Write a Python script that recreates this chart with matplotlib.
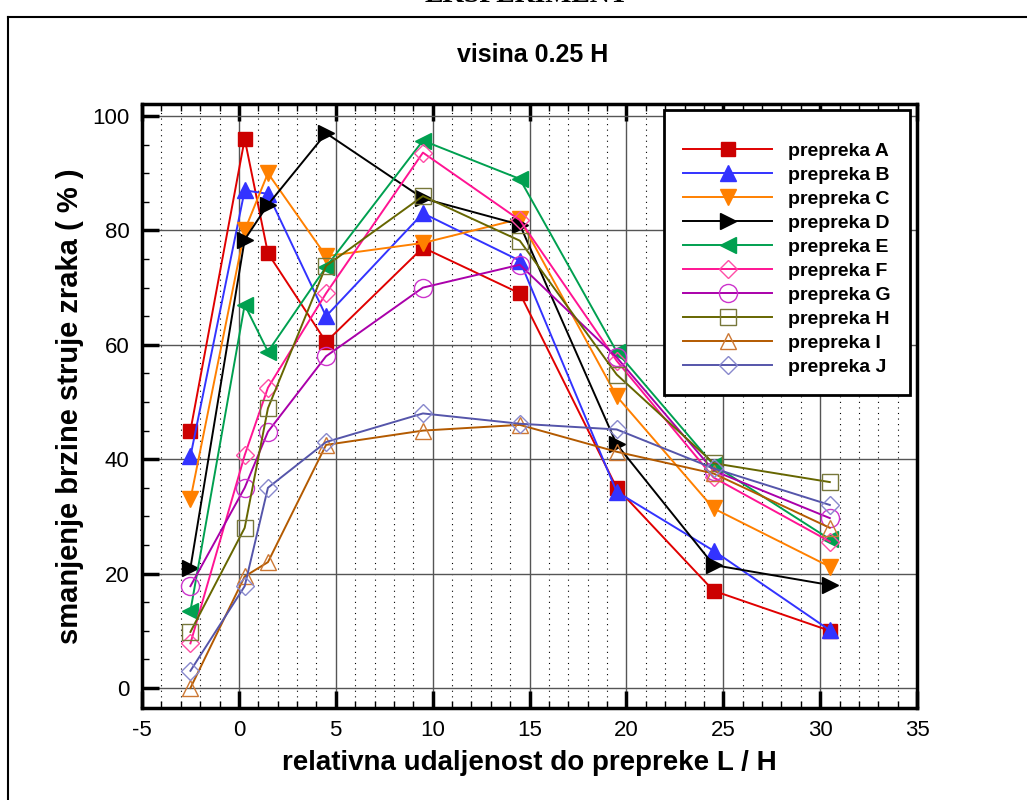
import numpy as np
import matplotlib.pyplot as plt
from matplotlib.lines import Line2D
from matplotlib.ticker import MultipleLocator

plt.rcParams['axes.unicode_minus'] = False

# relativna udaljenost L/H
x = [-2.5, 0.3, 1.5, 4.5, 9.5, 14.5, 19.5, 24.5, 30.5]

A = [45, 96, 76, 60.5, 77, 69, 35, 17, 10]
B = [40.5, 87, 86.4, 65, 83, 74.7, 34.3, 24, 10.1]
C = [33, 80, 90, 75.5, 77.8, 82, 51, 31.4, 21.2]
D = [21, 78.4, 84.5, 97, 85.6, 81, 42.6, 21.5, 18]
E = [13.5, 67, 58.8, 73.6, 95.7, 89, 58.8, 39, 26]
F = [7.8, 40.7, 52.5, 69, 93.6, 81.8, 57.2, 36.8, 25.6]
G = [17.8, 35, 44.8, 58, 70, 74, 57.8, 38, 29.7]
H = [9.8, 28, 48.9, 73.8, 86, 78.2, 54.8, 39.3, 36]
I = [0, 19.5, 22, 42.5, 45, 46, 41.3, 37.5, 28]
J = [3, 17.8, 35, 43, 48, 46.2, 45.2, 38.4, 32]

names = ['prepreka A', 'prepreka B', 'prepreka C', 'prepreka D', 'prepreka E',
         'prepreka F', 'prepreka G', 'prepreka H', 'prepreka I', 'prepreka J']

fig = plt.figure(figsize=(10.27, 8), dpi=100)
ax = fig.add_axes([142/1027, 92/800, 775/1027, 604/800])

# izgled serija: boja linije, marker, boja markera, ispunjen, velicina
stil = [
    ('#e00000', 's', '#cc0000', True, 10.5),
    ('#3333ff', '^', '#3333ff', True, 11.5),
    ('#ff8000', 'v', '#ff8000', True, 11.5),
    ('#000000', '>', '#000000', True, 11.5),
    ('#00a050', '<', '#00a050', True, 11.5),
    ('#ff1493', 'D', '#ff4da6', False, 9),
    ('#aa00aa', 'o', '#cc33cc', False, 13),
    ('#666600', 's', '#77773a', False, 11),
    ('#b35a00', '^', '#cc7733', False, 11.5),
    ('#5555aa', 'D', '#8888cc', False, 9),
]

for y, ime, (lc, m, mc, fill, ms) in zip([A, B, C, D, E, F, G, H, I, J], names, stil):
    ax.plot(x, y, color=lc, lw=1.4, marker=m, ms=ms,
            markerfacecolor=mc if fill else 'none', markeredgecolor=mc,
            markeredgewidth=1.0, label=ime, zorder=3)

ax.set_xlim(-5, 35)
ax.set_ylim(-3.5, 102.1)
ax.xaxis.set_major_locator(MultipleLocator(5))
ax.xaxis.set_minor_locator(MultipleLocator(1))
ax.yaxis.set_major_locator(MultipleLocator(20))
ax.yaxis.set_minor_locator(MultipleLocator(5))

ax.grid(which='major', color='#555555', lw=1.0, ls='-', zorder=1)
ax.grid(which='minor', axis='x', color='black', lw=0.8, ls=(0, (1, 4)), zorder=1)
ax.set_axisbelow(True)

ax.tick_params(which='major', direction='in', length=12, width=2.5,
               top=True, labelsize=16, pad=9)
ax.tick_params(which='minor', direction='in', length=5, width=1, top=True)
for s in ax.spines.values():
    s.set_linewidth(2.5)

fnt = ['Liberation Sans', 'DejaVu Sans']
for lab in ax.get_xticklabels() + ax.get_yticklabels():
    lab.set_family(fnt)

ax.set_xlabel('relativna udaljenost do prepreke L / H', fontsize=20,
              fontweight='bold', family=fnt, labelpad=6)
ax.set_ylabel('smanjenje brzine struje zraka ( % )', fontsize=21,
              fontweight='bold', family=fnt, labelpad=6)

leg = ax.legend(loc='upper right', bbox_to_anchor=(0.991, 0.99), fancybox=False,
                edgecolor='black', framealpha=1, handlelength=4.6, handletextpad=0.8,
                labelspacing=0.33, borderpad=1.0, borderaxespad=0,
                title=' ', title_fontsize=5,
                prop={'family': fnt, 'weight': 'bold', 'size': 14})
leg.get_frame().set_linewidth(2)

fig.text(533/1027, 1 - 55/800, 'visina 0.25 H', ha='center', va='center',
         fontsize=18, fontweight='bold', family=fnt)
fig.text(527/1027, 1 - 8/800, 'EKSPERIMENT', ha='center', va='bottom',
         fontsize=20, family='Liberation Serif', fontweight='bold')

# okvir oko slike
fig.add_artist(Line2D([8/1027, 1.0], [1 - 17/800, 1 - 17/800], color='black', lw=1.5))
fig.add_artist(Line2D([8/1027, 8/1027], [0, 1 - 17/800], color='black', lw=1.5))

fig.savefig('out.png', dpi=100)
